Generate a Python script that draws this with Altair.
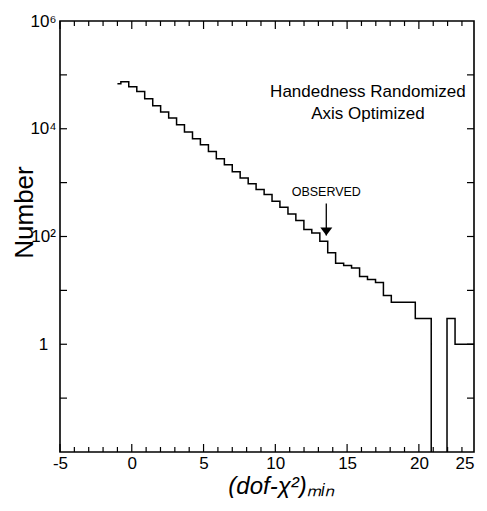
import altair as alt
import pandas as pd

# ---- data ----
# histogram: left bin edges of (dof - chi2)_min and counts per bin
edges = [-1.00, -0.76, -0.21, 0.35, 0.90, 1.46, 2.01, 2.57, 3.12, 3.67, 4.23, 4.78,
         5.34, 5.89, 6.45, 7.00, 7.55, 8.11, 8.66, 9.22, 9.77, 10.32, 10.88, 11.43,
         11.99, 12.54, 13.10, 13.65, 14.20, 14.76, 15.31, 15.87, 16.42, 16.98, 17.53,
         18.08, 18.64, 19.19, 19.75, 20.30, 20.86, 21.41, 21.96, 22.52, 23.07, 23.63, 24.18]
counts = [68100, 74200, 59900, 49100, 35900, 26700, 20400, 15800, 11900, 8690, 6530,
          5050, 3800, 2780, 2150, 1600, 1220, 958, 742, 599, 450, 349, 263, 198, 135,
          116, 82, 50, 32, 29, 26, 18, 16, 14, 8, 6, 6, 6, 3, 3, 0, 0, 3, 1, 1, 1]

x_major = [-5, 0, 5, 10, 15, 20]
x_minor = [-4, -3, -2, -1, 1, 2, 3, 4, 6, 7, 8, 9, 11, 12, 13, 14, 16, 17, 18, 19, 21, 22, 23]
y_ticks = [0.1, 1, 10, 100, 1000, 10000, 100000]
x_label_values = [-5, 0, 5, 10, 15, 20, 23.84]
y_label_values = [1, 100, 10000, 1000000]

observed_x = 13.55
observed_tip = 104
observed_top = 408
observed_text_y = 557
note_lines = ["Handedness Randomized", "Axis Optimized"]
note_x = 16.45
note_y = [38600, 15100]

W, H = 414, 431
FONT = "Liberation Sans"

hist = pd.DataFrame({
    "x": edges,
    "n": counts + [counts[-1]],
})
hist["yv"] = [v if v > 0 else 0.001 for v in hist["n"]]

xs = alt.Scale(domain=[-5, 23.84], nice=False, zero=False)
ys = alt.Scale(type="log", domain=[0.01, 1000000], nice=False)

# the same axis objects are given to every layer so that Vega-Lite merges them cleanly
x_axis = alt.Axis(
    values=x_label_values,
    labelExpr="datum.value > 23 ? '25' : '' + datum.value",
    labelAlign={"condition": {"test": "datum.value > 23", "value": "right"}, "value": "center"},
    ticks=False, domain=False, grid=False,
    labelFont=FONT, labelFontSize=17, labelColor="black", labelPadding=3,
    labelFlush=False,
    title="(dof-χ²)ₘᵢₙ", titleFont=FONT, titleFontSize=24, titleFontStyle="italic",
    titleFontWeight="normal", titleColor="black",
    titleX=221, titleY=41, titleAlign="center", titleBaseline="alphabetic",
)
y_axis = alt.Axis(
    values=y_label_values,
    labelExpr="datum.value == 1 ? '1' : datum.value == 100 ? '10²' : datum.value == 10000 ? '10⁴' : '10⁶'",
    ticks=False, domain=False, grid=False,
    labelFont=FONT, labelFontSize=17, labelColor="black", labelPadding=17,
    labelAlign="center", labelFlush=False,
    title="Number", titleFont=FONT, titleFontSize=26, titleFontWeight="normal",
    titleColor="black", titleAngle=-90, titleX=-28, titleY=191,
    titleAlign="center", titleBaseline="alphabetic",
)

X = lambda f: alt.X(f, scale=xs, axis=x_axis)
Y = lambda f: alt.Y(f, scale=ys, axis=y_axis)

line = alt.Chart(hist).mark_line(
    interpolate="step-after", clip=True, color="black", strokeWidth=1.5
).encode(x=X("x:Q"), y=Y("yv:Q"))

def xticks(vals, length, top):
    df = pd.DataFrame({"x": vals})
    if top:
        enc = dict(y=alt.value(0), y2=alt.value(length))
    else:
        enc = dict(y=alt.value(H), y2=alt.value(H - length))
    return alt.Chart(df).mark_rule(color="black", strokeWidth=1.2).encode(x=X("x:Q"), **enc)

def yticks(vals, length, right):
    df = pd.DataFrame({"yv": vals})
    if right:
        enc = dict(x=alt.value(W), x2=alt.value(W - length))
    else:
        enc = dict(x=alt.value(0), x2=alt.value(length))
    return alt.Chart(df).mark_rule(color="black", strokeWidth=1.2).encode(y=Y("yv:Q"), **enc)

arrow_df = pd.DataFrame({"x": [observed_x], "yv": [observed_top], "tip": [observed_tip],
                         "ty": [observed_text_y], "label": ["OBSERVED"]})
arrow_line = alt.Chart(arrow_df).mark_rule(color="black", strokeWidth=1.3).encode(
    x=X("x:Q"), y=Y("yv:Q"), y2="tip:Q",
)
arrow_head = alt.Chart(arrow_df).transform_calculate(yv="datum.tip").mark_point(
    shape="M-1,-1.35L1,-1.35L0,0Z", filled=True, color="black", size=144, opacity=1
).encode(x=X("x:Q"), y=Y("yv:Q"))
arrow_text = alt.Chart(arrow_df).transform_calculate(yv="datum.ty").mark_text(
    font=FONT, fontSize=12.5, color="black", align="center", baseline="alphabetic"
).encode(x=X("x:Q"), y=Y("yv:Q"), text="label:N")

note_df = pd.DataFrame({"x": [note_x] * len(note_lines), "yv": note_y, "t": note_lines})
note = alt.Chart(note_df).mark_text(
    font=FONT, fontSize=17, color="black", align="center", baseline="alphabetic"
).encode(x=X("x:Q"), y=Y("yv:Q"), text="t:N")

chart = alt.layer(
    line,
    xticks(x_major, 8, False), xticks(x_minor, 5, False),
    xticks(x_major, 8, True), xticks(x_minor, 5, True),
    yticks(y_ticks, 7, False), yticks(y_ticks, 7, True),
    arrow_line, arrow_head, arrow_text, note,
).properties(
    width=W, height=H,
    autosize=alt.AutoSizeParams(type="none"),
    padding={"left": 52, "top": 13, "right": 5, "bottom": 46},
    background="white",
).configure_view(
    stroke="black", strokeWidth=1.6
)

chart.save("out.html", embed_options={"renderer": "svg", "actions": False})
